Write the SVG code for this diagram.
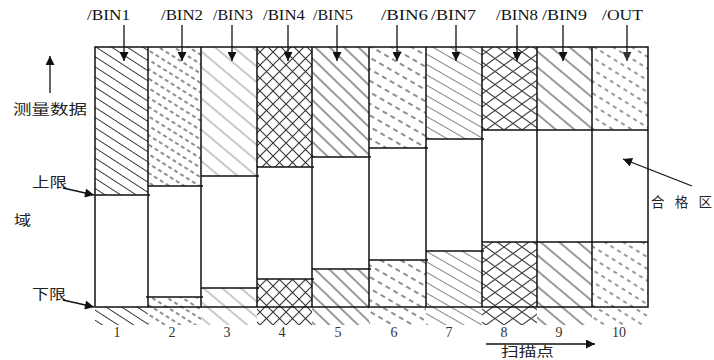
<svg xmlns="http://www.w3.org/2000/svg" width="714" height="360" viewBox="0 0 714 360">
<style>
.lbl{font-family:"Liberation Serif","Times New Roman",serif;font-size:14px;fill:#111}
.num{font-family:"Liberation Serif","Times New Roman",serif;font-size:14px;fill:#333;text-anchor:middle}
.cjk{font-family:"Noto Sans CJK SC","Noto Sans",sans-serif;font-size:13.5px;fill:#222}
.frame{fill:none;stroke:#111;stroke-width:1.5}
.lim{stroke:#111;stroke-width:1.3}
.arr{stroke:#111;stroke-width:1.3;fill:none}
</style>
<defs>
<marker id="ah" viewBox="0 0 10 10" refX="10" refY="5" markerWidth="10" markerHeight="9" markerUnits="userSpaceOnUse" orient="auto"><path d="M0,0 L10,5 L0,10 z" fill="#111"/></marker>
<marker id="ahg" viewBox="0 0 10 10" refX="10" refY="5" markerWidth="10" markerHeight="9" markerUnits="userSpaceOnUse" orient="auto"><path d="M0,0 L10,5 L0,10 z" fill="#333"/></marker>
<pattern id="p1" patternUnits="userSpaceOnUse" width="10" height="8.5" patternTransform="rotate(33)"><line x1="0" y1="4.25" x2="10" y2="4.25" stroke="#333" stroke-width="1"/></pattern>
<pattern id="p2" patternUnits="userSpaceOnUse" width="7" height="8" patternTransform="rotate(32)"><line x1="0" y1="4" x2="7" y2="4" stroke="#333" stroke-width="1.1" stroke-dasharray="4 3"/></pattern>
<pattern id="p3" patternUnits="userSpaceOnUse" width="10" height="12" patternTransform="rotate(40)"><line x1="0" y1="6" x2="10" y2="6" stroke="#888" stroke-width="0.9"/></pattern>
<pattern id="p4" patternUnits="userSpaceOnUse" width="13" height="13"><path d="M0,0 L13,13 M0,13 L13,0" stroke="#333" stroke-width="1.1" fill="none"/></pattern>
<pattern id="p5" patternUnits="userSpaceOnUse" width="10" height="10" patternTransform="rotate(44)"><line x1="0" y1="5" x2="10" y2="5" stroke="#333" stroke-width="1"/></pattern>
<pattern id="p6" patternUnits="userSpaceOnUse" width="9" height="10" patternTransform="rotate(30)"><line x1="0" y1="5" x2="9" y2="5" stroke="#333" stroke-width="1.1" stroke-dasharray="5 4"/></pattern>
<pattern id="p7" patternUnits="userSpaceOnUse" width="10" height="9" patternTransform="rotate(30)"><line x1="0" y1="4.5" x2="10" y2="4.5" stroke="#777" stroke-width="0.9"/></pattern>
<pattern id="p8" patternUnits="userSpaceOnUse" width="18" height="13"><path d="M0,0 L18,13 M0,13 L18,0" stroke="#444" stroke-width="1.1" fill="none"/></pattern>
<pattern id="p9" patternUnits="userSpaceOnUse" width="10" height="12" patternTransform="rotate(40)"><line x1="0" y1="6" x2="10" y2="6" stroke="#333" stroke-width="1"/></pattern>
<pattern id="p10" patternUnits="userSpaceOnUse" width="8" height="10" patternTransform="rotate(32)"><line x1="0" y1="5" x2="8" y2="5" stroke="#444" stroke-width="1.1" stroke-dasharray="4 4"/></pattern>
</defs>
<rect width="714" height="360" fill="#fff"/>

<g id="col1"><rect x="95" y="47" width="53" height="148" fill="url(#p1)"/><rect x="95" y="307" width="53" height="18" fill="url(#p1)"/><text class="lbl" x="87" y="20" textLength="43" lengthAdjust="spacingAndGlyphs">/BIN1</text><text class="num" x="117" y="337">1</text></g>
<g id="col2"><rect x="148" y="47" width="53" height="139" fill="url(#p2)"/><rect x="148" y="297" width="53" height="28" fill="url(#p2)"/><text class="lbl" x="161" y="20" textLength="42" lengthAdjust="spacingAndGlyphs">/BIN2</text><text class="num" x="172" y="337">2</text></g>
<g id="col3"><rect x="201" y="47" width="56" height="129" fill="url(#p3)"/><rect x="201" y="288" width="56" height="37" fill="url(#p3)"/><text class="lbl" x="213" y="20" textLength="40" lengthAdjust="spacingAndGlyphs">/BIN3</text><text class="num" x="227" y="337">3</text></g>
<g id="col4"><rect x="257" y="47" width="55" height="120" fill="url(#p4)"/><rect x="257" y="279" width="55" height="46" fill="url(#p4)"/><text class="lbl" x="263" y="20" textLength="42" lengthAdjust="spacingAndGlyphs">/BIN4</text><text class="num" x="282" y="337">4</text></g>
<g id="col5"><rect x="312" y="47" width="57" height="110" fill="url(#p5)"/><rect x="312" y="269" width="57" height="56" fill="url(#p5)"/><text class="lbl" x="313" y="20" textLength="40" lengthAdjust="spacingAndGlyphs">/BIN5</text><text class="num" x="338" y="337">5</text></g>
<g id="col6"><rect x="369" y="47" width="57" height="101" fill="url(#p6)"/><rect x="369" y="260" width="57" height="65" fill="url(#p6)"/><text class="lbl" x="381" y="20" textLength="47" lengthAdjust="spacingAndGlyphs">/BIN6</text><text class="num" x="394" y="337">6</text></g>
<g id="col7"><rect x="426" y="47" width="56" height="92" fill="url(#p7)"/><rect x="426" y="251" width="56" height="74" fill="url(#p7)"/><text class="lbl" x="431" y="20" textLength="45" lengthAdjust="spacingAndGlyphs">/BIN7</text><text class="num" x="449" y="337">7</text></g>
<g id="col8"><rect x="482" y="47" width="55" height="83" fill="url(#p8)"/><rect x="482" y="242" width="55" height="83" fill="url(#p8)"/><text class="lbl" x="496" y="20" textLength="42" lengthAdjust="spacingAndGlyphs">/BIN8</text><text class="num" x="504" y="337">8</text></g>
<g id="col9"><rect x="537" y="47" width="55" height="83" fill="url(#p9)"/><rect x="537" y="242" width="55" height="83" fill="url(#p9)"/><text class="lbl" x="542" y="20" textLength="45" lengthAdjust="spacingAndGlyphs">/BIN9</text><text class="num" x="559" y="337">9</text></g>
<g id="col10"><rect x="592" y="47" width="56" height="83" fill="url(#p10)"/><rect x="592" y="242" width="56" height="83" fill="url(#p10)"/><text class="lbl" x="602" y="20" textLength="41" lengthAdjust="spacingAndGlyphs">/OUT</text><text class="num" x="619" y="337">10</text></g>

<g id="frame">
<rect class="frame" x="95" y="47" width="553" height="260"/>
<path class="frame" d="M148,47V307M201,47V307M257,47V307M312,47V307M369,47V307M426,47V307M482,47V307M537,47V307M592,47V307"/>
<path class="lim" d="M95,195H150M148,186H203M201,176H259M257,167H314M312,157H371M369,148H428M426,139H484M482,130H648"/>
<path class="lim" d="M146,297H203M201,288H259M257,279H314M312,269H371M369,260H428M426,251H484M482,242H648"/>
</g>

<g id="labels">
<text class="cjk" x="13" y="114" textLength="74" lengthAdjust="spacingAndGlyphs">测量数据</text>
<text class="cjk" x="32" y="187" textLength="35" lengthAdjust="spacingAndGlyphs">上限</text>
<text class="cjk" x="14" y="225" textLength="17" lengthAdjust="spacingAndGlyphs">域</text>
<text class="cjk" x="32" y="299" textLength="34" lengthAdjust="spacingAndGlyphs">下限</text>
<text class="cjk" x="651" y="207" textLength="61" lengthAdjust="spacing">合格区</text>
<text class="cjk" style="font-size:13px" x="501" y="356" textLength="53" lengthAdjust="spacingAndGlyphs">扫描点</text>
</g>

<g id="connectors">
<line class="arr" x1="124" y1="25" x2="124" y2="61" marker-end="url(#ah)"/>
<line class="arr" x1="182" y1="25" x2="182" y2="61" marker-end="url(#ah)"/>
<line class="arr" x1="232" y1="25" x2="232" y2="61" marker-end="url(#ah)"/>
<line class="arr" x1="288" y1="25" x2="288" y2="61" marker-end="url(#ah)"/>
<line class="arr" x1="337" y1="25" x2="337" y2="61" marker-end="url(#ah)"/>
<line class="arr" x1="397" y1="25" x2="397" y2="61" marker-end="url(#ah)"/>
<line class="arr" x1="456" y1="25" x2="456" y2="61" marker-end="url(#ah)"/>
<line class="arr" x1="517" y1="25" x2="517" y2="61" marker-end="url(#ah)"/>
<line class="arr" x1="563" y1="25" x2="563" y2="61" marker-end="url(#ah)"/>
<line class="arr" x1="627" y1="25" x2="627" y2="61" stroke="#555" marker-end="url(#ahg)"/>
<line class="arr" x1="50" y1="93" x2="50" y2="56" marker-end="url(#ah)"/>
<line class="arr" x1="63" y1="188" x2="94" y2="195" marker-end="url(#ah)"/>
<line class="arr" x1="63" y1="300" x2="94" y2="307" marker-end="url(#ah)"/>
<line class="arr" x1="692" y1="186" x2="623" y2="159" marker-end="url(#ah)"/>
<line class="arr" x1="486" y1="344" x2="595" y2="344" marker-end="url(#ah)"/>
</g>
</svg>
